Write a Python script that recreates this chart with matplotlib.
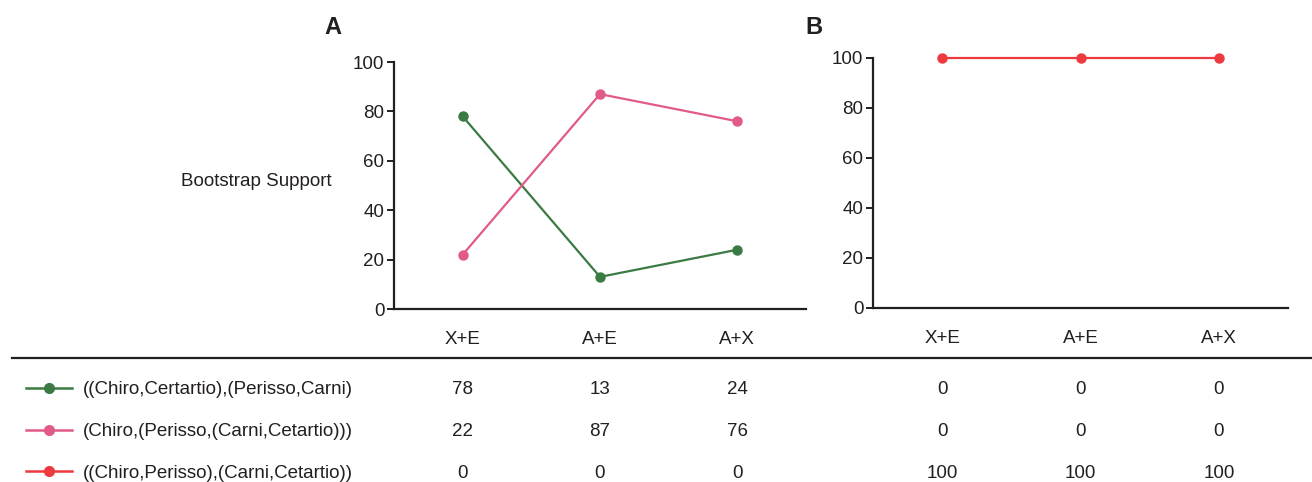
import matplotlib
matplotlib.use('Agg')
import matplotlib.pyplot as plt
import matplotlib.transforms as mtransforms
from matplotlib.lines import Line2D

plt.rcParams['font.family'] = ['Liberation Sans', 'DejaVu Sans']
plt.rcParams['font.size'] = 13.5

# Data
categories = ['X+E', 'A+E', 'A+X']
topologies = ['((Chiro,Certartio),(Perisso,Carni)',
              '(Chiro,(Perisso,(Carni,Cetartio)))',
              '((Chiro,Perisso),(Carni,Cetartio))']
support_A = [[78, 13, 24], [22, 87, 76], [0, 0, 0]]
support_B = [[0, 0, 0], [0, 0, 0], [100, 100, 100]]
colors = ['#3b7a42', '#e05a8a', '#ee3a3e']
ink = '#231f20'
fs = 13.5

W, H = 1312, 482
fig = plt.figure(figsize=(W / 100, H / 100), dpi=100)

axA = fig.add_axes([394 / W, 1 - 309 / H, 412 / W, 247 / H])
axB = fig.add_axes([873 / W, 1 - 308 / H, 415 / W, 250 / H])

x = list(range(len(categories)))

def style(ax):
    ax.set_xlim(-0.5, 2.5)
    ax.set_ylim(0, 100)
    ax.set_yticks([0, 20, 40, 60, 80, 100])
    ax.set_xticks(x)
    ax.set_xticklabels(categories)
    for s in ['top', 'right']:
        ax.spines[s].set_visible(False)
    for s in ['left', 'bottom']:
        ax.spines[s].set_linewidth(1.6)
        ax.spines[s].set_color(ink)
    ax.tick_params(axis='y', length=5, width=1.4, color=ink, labelcolor=ink, pad=2, labelsize=fs)
    ax.tick_params(axis='x', length=0, pad=16, labelcolor=ink, labelsize=fs)

# Panel A: the two topologies that vary
for vals, c in zip(support_A[:2], colors[:2]):
    axA.plot(x, vals, color=c, lw=1.6, marker='o', ms=6.5, clip_on=False, zorder=3)
style(axA)
axA.text(332 / W, 1 - 182 / H, 'Bootstrap Support', transform=fig.transFigure,
         ha='right', va='center', color=ink, fontsize=fs)

# Panel B
axB.plot(x, support_B[2], color=colors[2], lw=1.6, marker='o', ms=6.5, clip_on=False, zorder=3)
style(axB)

fig.text(333 / W, 1 - 27 / H, 'A', fontsize=17, fontweight='bold', ha='center', va='center', color=ink)
fig.text(814 / W, 1 - 27 / H, 'B', fontsize=17, fontweight='bold', ha='center', va='center', color=ink)

# Table separator
fig.add_artist(Line2D([12 / W, 1], [1 - 358 / H] * 2, color=ink, lw=1.6))

# Table rows
row_y = [1 - 388 / H, 1 - 430 / H, 1 - 471 / H]
for i, (lab, c, yy) in enumerate(zip(topologies, colors, row_y)):
    fig.add_artist(Line2D([26 / W, 72 / W], [yy, yy], color=c, lw=1.8))
    fig.add_artist(Line2D([49 / W], [yy], color=c, marker='o', ms=7, lw=0))
    fig.text(83 / W, yy, lab, ha='left', va='center_baseline', color=ink, fontsize=fs)
    for ax, data in ((axA, support_A), (axB, support_B)):
        tr = mtransforms.blended_transform_factory(ax.transData, fig.transFigure)
        for xi, v in zip(x, data[i]):
            ax.text(xi, yy, str(v), transform=tr, ha='center', va='center_baseline',
                    color=ink, fontsize=fs, clip_on=False)

fig.savefig('out.png', dpi=100)
